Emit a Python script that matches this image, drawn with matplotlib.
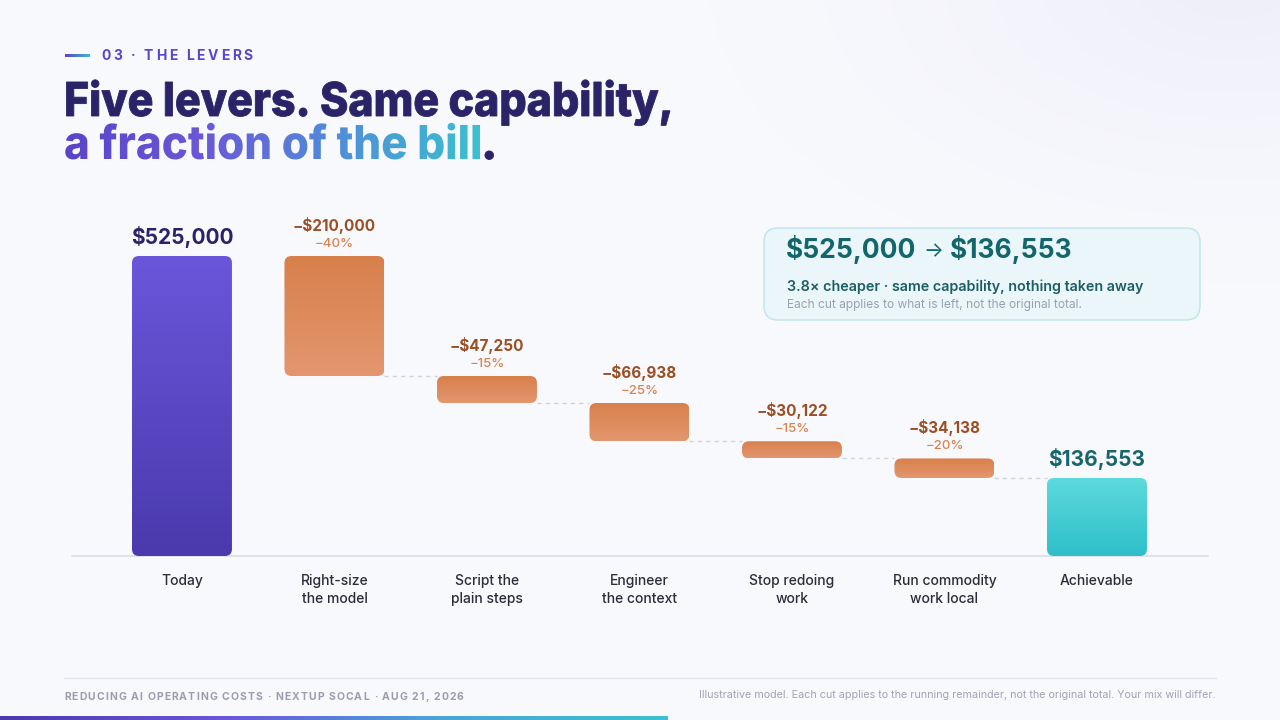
import numpy as np
import matplotlib
matplotlib.use("Agg")
import matplotlib.pyplot as plt
from matplotlib.patches import FancyBboxPatch, PathPatch
from matplotlib.textpath import TextPath
from matplotlib.font_manager import FontProperties
from matplotlib.transforms import Affine2D
from matplotlib.colors import LinearSegmentedColormap, to_rgb

# ---------------- data ----------------
categories = ["Today", "Right-size\nthe model", "Script the\nplain steps",
              "Engineer\nthe context", "Stop redoing\nwork", "Run commodity\nwork local",
              "Achievable"]
start_value = 525000
cut_values = [210000, 47250, 66938, 30122, 34138]
cut_pcts = [40, 15, 25, 15, 20]
end_value = 136553
start_label = "\\$525,000"
end_label = "\\$136,553"
cut_labels = ["\u2212\\$210,000", "\u2212\\$47,250", "\u2212\\$66,938", "\u2212\\$30,122", "\u2212\\$34,138"]
pct_labels = ["\u221240%", "\u221215%", "\u221225%", "\u221215%", "\u221220%"]

FONT = ["Inter", "DejaVu Sans"]
plt.rcParams["font.family"] = FONT

W, H = 1280, 720
fig = plt.figure(figsize=(12.8, 7.2), dpi=100)
fig.patch.set_facecolor("#f8f9fd")

# background / overlay axes in pixel coords
bg = fig.add_axes([0, 0, 1, 1])
bg.set_xlim(0, W)
bg.set_ylim(H, 0)
bg.axis("off")
bg.set_zorder(0)

# subtle tint at top-right
yy, xx = np.mgrid[0:H:4, 0:W:4]
d = np.sqrt(((xx - 1230) / 520.0) ** 2 + ((yy + 20) / 300.0) ** 2)
a = np.clip(1 - d, 0, 1) ** 1.5
base = np.array(to_rgb("#f8f9fd"))
tint = np.array(to_rgb("#eeeef9"))
img = base[None, None, :] * (1 - a[..., None]) + tint[None, None, :] * a[..., None]
bg.imshow(img, extent=(0, W, H, 0), aspect="auto", zorder=0, interpolation="bilinear")
bg.set_xlim(0, W)
bg.set_ylim(H, 0)

renderer = fig.canvas.get_renderer()


def text_width(s, fp):
    w1, _, _ = renderer.get_text_width_height_descent(s + "I", fp, ismath=False)
    w2, _, _ = renderer.get_text_width_height_descent("I", fp, ismath=False)
    return w1 - w2


def tracked_text(ax, x, y, s, fp, color, tracking):
    for i, ch in enumerate(s):
        xi = x + text_width(s[:i], fp) + i * tracking
        ax.text(xi, y, ch, fontproperties=fp, color=color, ha="left", va="center", zorder=5)


def hgrad_cmap(colors):
    return LinearSegmentedColormap.from_list("g", colors)


def path_text(s, x, baseline, cap_px, target_w, fp):
    tp = TextPath((0, 0), s, size=100, prop=fp)
    ext = tp.get_extents()
    size_scale = cap_px / 72.7
    sx = target_w / (ext.x1 * size_scale) * size_scale if target_w else size_scale
    tr = Affine2D().scale(sx, -size_scale).translate(x, baseline)
    return tr.transform_path(tp), ext.x1 * sx


# ---------- header ----------
grad_line = np.linspace(0, 1, 50)[None, :]
bg.imshow(grad_line, cmap=hgrad_cmap(["#5a46c9", "#3fb8d0"]), extent=(65, 90, 57, 54.5),
          aspect="auto", zorder=3)
bg.set_xlim(0, W); bg.set_ylim(H, 0)
fp_kicker = FontProperties(family=FONT, weight="bold", size=10)
tracked_text(bg, 101, 56, "03 \u00b7 THE LEVERS", fp_kicker, "#5a46c9", 2.7)

# ---------- title ----------
fp_title = FontProperties(family=FONT, weight="heavy")
p1, w1 = path_text("Five levers. Same capability,", 64, 116, 34, 606, fp_title)
bg.add_patch(PathPatch(p1, facecolor="#2a2368", edgecolor="#2a2368", lw=0.6, zorder=5))
p2, w2 = path_text("a fraction of the bill", 64, 159, 34, 416, fp_title)
pp2 = PathPatch(p2, facecolor="none", edgecolor="none", zorder=5)
bg.add_patch(pp2)
gimg = bg.imshow(np.linspace(0, 1, 256)[None, :],
                 cmap=hgrad_cmap(["#5a44c8", "#6a58d8", "#4f8fd8", "#3cc0cf"]),
                 extent=(64, 64 + w2, 165, 120), aspect="auto", zorder=5)
gimg.set_clip_path(pp2)
dot, _ = path_text(".", 64 + w2 + 1, 159, 34, None, fp_title)
bg.add_patch(PathPatch(dot, facecolor="#2a2368", edgecolor="#2a2368", lw=0.6, zorder=5))
bg.set_xlim(0, W); bg.set_ylim(H, 0)

# ---------- chart ----------
ax_left, ax_right = 72, 1208
ax_bottom, ax_top = 556, 200
ax = fig.add_axes([ax_left / W, 1 - ax_bottom / H, (ax_right - ax_left) / W, (ax_bottom - ax_top) / H])
ax.set_zorder(2)
ax.patch.set_alpha(0)
n = len(categories)
xlim = (-0.721, 6.728)
ylim = (0, start_value * (ax_bottom - ax_top) / 300.0)
ax.set_xlim(*xlim)
ax.set_ylim(*ylim)
for s in ax.spines.values():
    s.set_visible(False)
ax.tick_params(length=0, labelleft=False)
ax.set_yticks([])
ax.set_xticks(range(n))
ax.set_xticklabels(categories, fontsize=10, color="#2c2c3a", fontweight="medium", linespacing=1.4)
ax.tick_params(axis="x", pad=13)
ax.axhline(0, color="#d8dbe4", lw=1.1, zorder=1, clip_on=False)

px_per_x = (ax_right - ax_left) / (xlim[1] - xlim[0])
px_per_y = (ax_bottom - ax_top) / (ylim[1] - ylim[0])
aspect = px_per_x / px_per_y
bar_w = 100 / px_per_x
rad = 7 / px_per_x


def grad_bar(xc, y0, y1, top_color, bottom_color):
    x0 = xc - bar_w / 2
    patch = FancyBboxPatch((x0, y0), bar_w, y1 - y0,
                           boxstyle=f"round,pad=0,rounding_size={rad}",
                           mutation_aspect=aspect, facecolor="none", edgecolor="none", zorder=3)
    ax.add_patch(patch)
    g = np.linspace(0, 1, 128)[:, None]
    cm = hgrad_cmap([top_color, bottom_color])
    im = ax.imshow(g, cmap=cm, extent=(x0, x0 + bar_w, y0, y1), aspect="auto", zorder=3,
                   origin="upper")
    im.set_clip_path(patch)


# Today
grad_bar(0, 0, start_value, "#6a56da", "#4a3aad")
ax.annotate(start_label, (0, start_value), xytext=(0, 19), textcoords="offset pixels",
            ha="center", va="center", fontsize=15, fontweight="bold", color="#2a2368")

running = start_value
for i, (c, cl, pl) in enumerate(zip(cut_values, cut_labels, pct_labels)):
    xc = i + 1
    top = running
    bottom = running - c
    grad_bar(xc, bottom, top, "#d8804b", "#e3966f")
    ax.annotate(cl, (xc, top), xytext=(0, 31), textcoords="offset pixels",
                ha="center", va="center", fontsize=11, fontweight="bold", color="#9a4f25")
    ax.annotate(pl, (xc, top), xytext=(0, 12), textcoords="offset pixels",
                ha="center", va="center", fontsize=9.5, fontweight="medium", color="#d9834f")
    ax.plot([xc + bar_w / 2, xc + 1 - bar_w / 2], [bottom, bottom], color="#cfd3dd",
            lw=1, ls=(0, (3, 3)), zorder=2)
    running = bottom

grad_bar(n - 1, 0, end_value, "#5ddadd", "#2ebfca")
ax.annotate(end_label, (n - 1, end_value), xytext=(0, 19), textcoords="offset pixels",
            ha="center", va="center", fontsize=15, fontweight="bold", color="#17666c")
ax.set_xlim(*xlim)
ax.set_ylim(*ylim)

# ---------- callout ----------
box = FancyBboxPatch((764, 228), 436, 92, boxstyle="round,pad=0,rounding_size=14",
                     facecolor="#eaf6f9", edgecolor="#bde5ea", lw=1.0, zorder=4)
bg.add_patch(box)
fp_big = FontProperties(family=FONT, weight="bold", size=19)
fp_arrow = FontProperties(family=FONT, weight="normal", size=15)
cx = 786
bg.text(cx, 250, "\\$525,000", fontproperties=fp_big, color="#13666c", ha="left", va="center", zorder=5)
cx += text_width("$525,000", fp_big) + 7
bg.text(cx, 251, "\u2192", fontproperties=fp_arrow, color="#13666c", ha="left", va="center", zorder=5)
cx += text_width("\u2192", fp_arrow) + 7
bg.text(cx, 250, "\\$136,553", fontproperties=fp_big, color="#13666c", ha="left", va="center", zorder=5)
bg.text(787, 287, "3.8\u00d7 cheaper \u00b7 same capability, nothing taken away", fontsize=10.3,
        fontweight="semibold", color="#1d5e66", ha="left", va="center", zorder=5)
bg.text(787, 305, "Each cut applies to what is left, not the original total.", fontsize=8.6,
        color="#9aa0b1", ha="left", va="center", zorder=5)

# ---------- footer ----------
bg.plot([64, 1216], [678, 678], color="#e1e3ea", lw=1, zorder=3)
fp_foot = FontProperties(family=FONT, weight="bold", size=7.5)
tracked_text(bg, 64, 697, "REDUCING AI OPERATING COSTS \u00b7 NEXTUP SOCAL \u00b7 AUG 21, 2026",
             fp_foot, "#9a9daf", 1.1)
bg.text(1216, 695, "Illustrative model. Each cut applies to the running remainder, not the original total. Your mix will differ.",
        fontsize=7.75, color="#a0a3b4", ha="right", va="center", zorder=5)
bg.imshow(np.linspace(0, 1, 256)[None, :],
          cmap=hgrad_cmap(["#4a3aad", "#6a56da", "#4aa6d6", "#3cc0cf"]),
          extent=(0, 668, 720, 716), aspect="auto", zorder=3)
bg.set_xlim(0, W); bg.set_ylim(H, 0)

fig.savefig("out.png", dpi=100, facecolor=fig.get_facecolor())
